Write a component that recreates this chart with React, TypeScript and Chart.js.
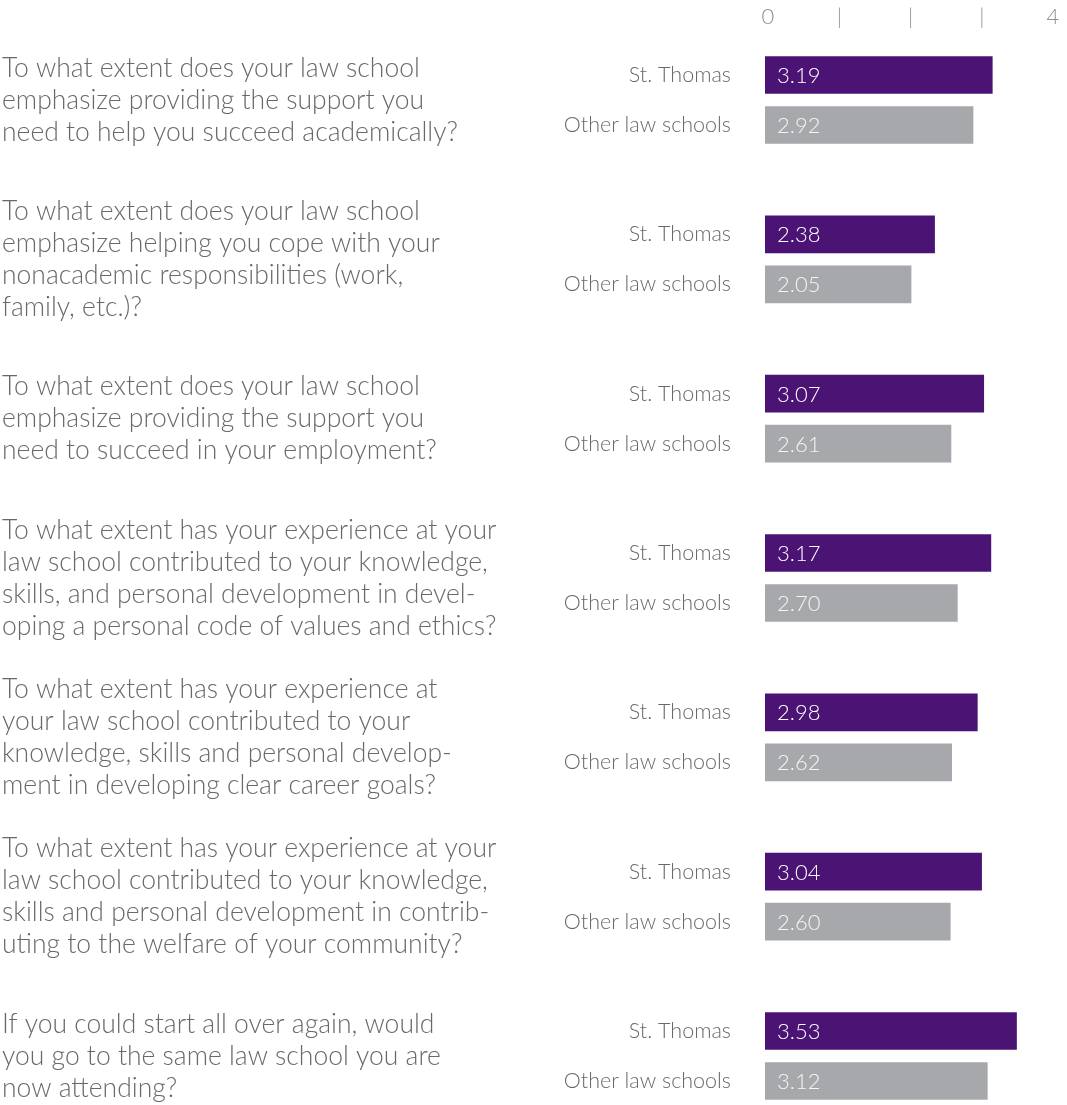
import React, { useEffect, useRef } from "react";
import { Chart, registerables } from "chart.js";

Chart.register(...registerables);

// ---- Data ----
const seriesNames = ["St. Thomas", "Other law schools"];
const stThomas = [3.19, 2.38, 3.07, 3.17, 2.98, 3.04, 3.53];
const otherSchools = [2.92, 2.05, 2.61, 2.7, 2.62, 2.6, 3.12];
const questions: string[][] = [
  [
    "To what extent does your law school",
    "emphasize providing the support you",
    "need to help you succeed academically?",
  ],
  [
    "To what extent does your law school",
    "emphasize helping you cope with your",
    "nonacademic responsibilities (work,",
    "family, etc.)?",
  ],
  [
    "To what extent does your law school",
    "emphasize providing the support you",
    "need to succeed in your employment?",
  ],
  [
    "To what extent has your experience at your",
    "law school contributed to your knowledge,",
    "skills, and personal development in devel-",
    "oping a personal code of values and ethics?",
  ],
  [
    "To what extent has your experience at",
    "your law school contributed to your",
    "knowledge, skills and personal develop-",
    "ment in developing clear career goals?",
  ],
  [
    "To what extent has your experience at your",
    "law school contributed to your knowledge,",
    "skills and personal development in contrib-",
    "uting to the welfare of your community?",
  ],
  [
    "If you could start all over again, would",
    "you go to the same law school you are",
    "now attending?",
  ],
];
const xTickLabels = ["0", "|", "|", "|", "4"];
const xMin = 0;
const xMax = 4;

// ---- Layout / style ----
const W = 1067;
const H = 1105;
const GROUP_STEP = 3.1867; // y-units between question groups (1 unit = row spacing)
const PURPLE = "#4B1374";
const GREY = "#A7A8AB";
const TEXT = "#68696c";
const FONT = "Lato, 'Open Sans', sans-serif";

export default function App() {
  const ref = useRef<HTMLCanvasElement | null>(null);

  useEffect(() => {
    if (!ref.current) return;
    const positions: number[] = [];
    stThomas.forEach((_, i) => {
      positions.push(i * GROUP_STEP, i * GROUP_STEP + 1);
    });

    const valueLabels = {
      id: "valueLabels",
      afterDatasetsDraw(chart: any) {
        const ctx = chart.ctx;
        ctx.save();
        ctx.font = `300 22px ${FONT}`;
        ctx.textBaseline = "middle";
        ctx.textAlign = "left";
        chart.data.datasets.forEach((ds: any, di: number) => {
          const meta = chart.getDatasetMeta(di);
          meta.data.forEach((el: any, j: number) => {
            ctx.fillStyle = di === 0 ? "#ffffff" : "#f4f4f4";
            ctx.fillText(ds.data[j].x.toFixed(2), el.base + 12, el.y + 1);
          });
        });
        ctx.restore();
      },
    };

    const questionText = {
      id: "questionText",
      afterDraw(chart: any) {
        const ctx = chart.ctx;
        const ys = chart.scales.y;
        const LH = 32;
        ctx.save();
        ctx.font = `300 26.5px ${FONT}`;
        ctx.fillStyle = TEXT;
        ctx.textBaseline = "middle";
        ctx.textAlign = "left";
        questions.forEach((lines, i) => {
          const c = ys.getPixelForValue(i * GROUP_STEP + 0.5);
          const start = c - ((lines.length - 1) / 2) * LH;
          lines.forEach((ln, k) => ctx.fillText(ln, 2, start + k * LH));
        });
        ctx.restore();
      },
    };

    const chart = new Chart(ref.current, {
      type: "bar",
      data: {
        datasets: [
          {
            label: seriesNames[0],
            data: stThomas.map((v, i) => ({ x: v, y: i * GROUP_STEP })),
            backgroundColor: PURPLE,
            barThickness: 37,
            grouped: false,
          } as any,
          {
            label: seriesNames[1],
            data: otherSchools.map((v, i) => ({ x: v, y: i * GROUP_STEP + 1 })),
            backgroundColor: GREY,
            barThickness: 37,
            grouped: false,
          } as any,
        ],
      },
      options: {
        indexAxis: "y",
        responsive: false,
        animation: false,
        layout: { autoPadding: false, padding: { left: 0, right: 17, top: 0, bottom: 0 } },
        plugins: {
          legend: { display: false },
          tooltip: { enabled: false },
        },
        scales: {
          x: {
            type: "linear",
            position: "top",
            min: xMin,
            max: xMax,
            grid: { display: false, drawTicks: false },
            border: { display: false },
            afterFit: (s: any) => {
              s.height = 40;
              s.paddingLeft = 0;
              s.paddingRight = 0;
              s.paddingTop = 0;
              s.paddingBottom = 0;
            },
            ticks: {
              stepSize: 1,
              padding: 10,
              labelOffset: 3,
              color: "#8e8e90",
              font: { family: FONT, size: 22, weight: "300" as any },
              callback: (_v: any, i: number) => xTickLabels[i],
            },
          },
          y: {
            type: "linear",
            reverse: true,
            offset: false,
            min: -0.7,
            max: 20.6,
            grid: { display: false, drawTicks: false, offset: false },
            border: { display: false },
            afterFit: (s: any) => {
              s.width = 765;
              s.paddingTop = 0;
              s.paddingBottom = 0;
              s.paddingLeft = 0;
              s.paddingRight = 0;
            },
            afterBuildTicks: (s: any) => {
              s.ticks = positions.map((p) => ({ value: p }));
            },
            ticks: {
              autoSkip: false,
              padding: 34,
              color: TEXT,
              font: { family: FONT, size: 21.5, weight: "300" as any },
              callback: (_v: any, i: number) => seriesNames[i % 2],
            },
          },
        },
      } as any,
      plugins: [valueLabels, questionText],
    });
    return () => chart.destroy();
  }, []);

  return (
    <div style={{ position: "absolute", left: 0, top: 0, width: W, height: H, background: "#fff" }}>
      <canvas ref={ref} width={W} height={H} style={{ width: W, height: H, display: "block" }} />
    </div>
  );
}
